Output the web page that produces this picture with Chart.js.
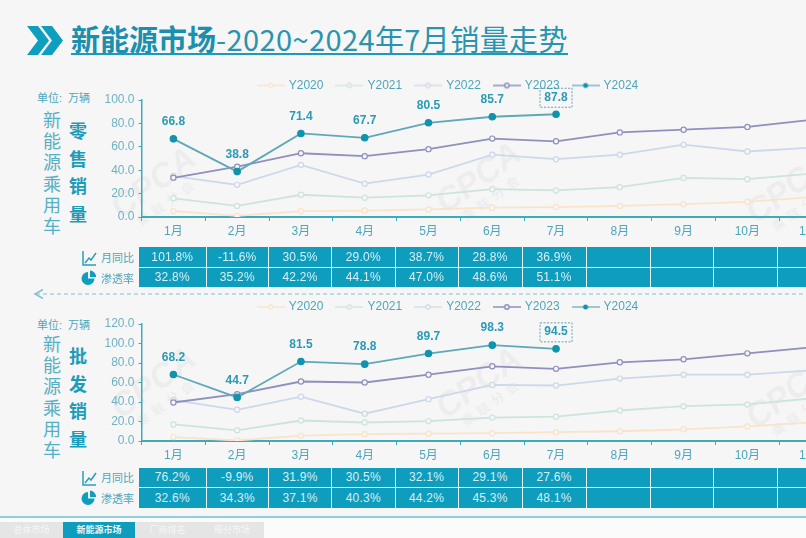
<!DOCTYPE html>
<html>
<head>
<meta charset="utf-8">
<script src="https://cdn.jsdelivr.net/npm/chart.js@4"></script>
<style>
html,body{margin:0;padding:0;width:806px;height:538px;overflow:hidden;background:#f6f6f6;font-family:"Liberation Sans","Noto Sans CJK SC",sans-serif;color:#4ea5bb}
div,svg,canvas,table{position:absolute}
.title{left:71px;top:18px;font-size:29px;line-height:40px;white-space:nowrap;color:#2a93ad;border-bottom:2px solid #1c9ab8;height:35px;width:497px;font-family:"Noto Sans CJK SC",sans-serif;letter-spacing:.4px}
.title b{font-weight:700;color:#1b8fae;letter-spacing:0}
.unit{left:37px;font-size:11px;white-space:nowrap;word-spacing:3px}
.vert{font-family:"Noto Sans CJK SC",sans-serif;font-size:18px;line-height:21.2px;width:20px;text-align:center;color:#55b0c6}
.vert.strong{font-weight:700;line-height:27.7px;color:#1b9cb9}
table{left:139px;border-collapse:collapse;table-layout:fixed;width:763px}
td{background:#0f9dbd;color:#d6f0f6;font-size:12px;text-align:center;height:19.5px;padding:0;border-right:1.5px solid #e6f5f8;border-bottom:1.5px solid #e6f5f8;letter-spacing:.2px}
tr:last-child td{border-bottom:none}
.rowname{left:101px;font-size:11px;font-family:"Noto Sans CJK SC",sans-serif;white-space:nowrap;line-height:14px;color:#4ea5bb}
.mark{color:rgba(190,190,190,.16);font:italic bold 34px "Liberation Sans",sans-serif;transform:rotate(-36deg);white-space:nowrap;line-height:30px;text-align:center}
.mark span{display:block;font:700 13px "Noto Sans CJK SC",sans-serif;letter-spacing:5px}
.foot{left:0;top:516px;width:806px;height:20px;background:#fbfbfb;border-top:2px solid #8fcfde}
.tab{top:522px;height:16px;line-height:16px;background:#e5e5e5;color:#f6f6f6;font:9px/16px "Noto Sans CJK SC",sans-serif;text-align:center}
</style>
</head>
<body>
<div class="mark" style="left:110px;top:165px">CPCA<span>乘联分会</span></div>
<div class="mark" style="left:435px;top:160px">CPCA<span>乘联分会</span></div>
<div class="mark" style="left:745px;top:170px">CPCA<span>乘联分会</span></div>
<div class="mark" style="left:110px;top:365px">CPCA<span>乘联分会</span></div>
<div class="mark" style="left:435px;top:365px">CPCA<span>乘联分会</span></div>
<div class="mark" style="left:745px;top:375px">CPCA<span>乘联分会</span></div>

<svg style="left:0;top:0" width="806" height="538">
  <polygon points="27,26 38,26 49,40.5 38,55 27,55 38,40.5" fill="#0e9ebf"/>
  <polygon points="41,26 52,26 63,40.5 52,55 41,55 52,40.5" fill="#0e9ebf"/>
  <line x1="36" y1="294" x2="806" y2="294" stroke="#7fc2d2" stroke-width="1.2" stroke-dasharray="4 3"/>
  <polyline points="43,289.5 35,294 43,298.5" fill="none" stroke="#7fc2d2" stroke-width="1.5"/>
  <g id="icons" fill="none" stroke="#2b9db9" stroke-width="1.5">
    <path d="M83 251V265H96M85 263L89 258L91 260L96 253"/>
    <path d="M83 471V485H96M85 483L89 478L91 480L96 473"/>
  </g>
  <path d="M88 272A6.5 6.5 0 1 0 94.5 278.5H88Z M90 270.5A6.5 6.5 0 0 1 96 277H90Z" fill="#0e9ebf"/>
  <path d="M88 492A6.5 6.5 0 1 0 94.5 498.5H88Z M90 490.5A6.5 6.5 0 0 1 96 497H90Z" fill="#0e9ebf"/>
</svg>

<div class="title"><b>新能源市场</b>-2020~2024年7月销量走势</div>

<div class="unit" style="top:89px">单位: 万辆</div>
<div class="vert" style="left:42px;top:109px">新<br>能<br>源<br>乘<br>用<br>车</div>
<div class="vert strong" style="left:68px;top:117px">零<br>售<br>销<br>量</div>
<div class="unit" style="top:316px">单位: 万辆</div>
<div class="vert" style="left:42px;top:333px">新<br>能<br>源<br>乘<br>用<br>车</div>
<div class="vert strong" style="left:68px;top:342px">批<br>发<br>销<br>量</div>

<canvas id="retail"></canvas>
<canvas id="wholesale"></canvas>

<div class="rowname" style="top:250px">月同比</div>
<div class="rowname" style="top:271px">渗透率</div>
<table id="retailTable" style="top:247px"></table>
<div class="rowname" style="top:470px">月同比</div>
<div class="rowname" style="top:491px">渗透率</div>
<table id="wholesaleTable" style="top:467.5px"></table>

<div class="foot"></div>
<div class="tab" style="left:0;width:63px">总体市场</div>
<div class="tab" style="left:63px;width:72px;background:#0f9dbd;color:#eaf7fa;font-weight:700">新能源市场</div>
<div class="tab" style="left:135px;width:65px">厂商排名</div>
<div class="tab" style="left:200px;width:64px">细分市场</div>

<script>
const months = ["1月","2月","3月","4月","5月","6月","7月","8月","9月","10月","11月","12月"];
const years = ["Y2020","Y2021","Y2022","Y2023","Y2024"];
const lineColors = ["#fae3c9","#cde4de","#cdd8ea","#8f90bd","#5ea8b8"];

const retail2020 = [5,1,5,5.5,6.5,8,8.5,9.5,11,13,17,20];
const retail2021 = [16,9.5,19,16.5,18.5,23.8,22.7,25.5,33.4,32.3,37,44];
const retail2022 = [35,27.5,44.5,28.5,36.3,53.3,49.4,53.3,61.8,56,59.3,65];
const retail2023 = [33.5,43,54.5,52,58,67,64.7,72.3,74.6,77,83,88];
const retail2024 = [66.8,38.8,71.4,67.7,80.5,85.7,87.8];
const retailYoy = ["101.8%","-11.6%","30.5%","29.0%","38.7%","28.8%","36.9%"];
const retailPen = ["32.8%","35.2%","42.2%","44.1%","47.0%","48.6%","51.1%"];

const whole2020 = [4,0.5,5.5,7,7.5,8,9,10,12,15,19,24];
const whole2021 = [17,11,21,19,20.4,24,25,31.3,35.7,37.5,43.6,50];
const whole2022 = [42,32,45.5,28,42.9,57.5,56.9,64,68,68,72.5,80];
const whole2023 = [39.5,48,61,60,68,76.6,74,80.7,83.8,89.9,96,105];
const whole2024 = [68.2,44.7,81.5,78.8,89.7,98.3,94.5];
const wholeYoy = ["76.2%","-9.9%","31.9%","30.5%","32.1%","29.1%","27.6%"];
const wholePen = ["32.6%","34.3%","37.1%","40.3%","44.2%","45.3%","48.1%"];

const axisColor = "#3fa9bd";
const tickColor = "#4ea5bb";
const font = '"Liberation Sans","Noto Sans CJK SC",sans-serif';

// little line + dot sample for the legend
function legendIcon(i) {
  const c = document.createElement("canvas");
  c.width = 28; c.height = 10;
  const x = c.getContext("2d");
  x.strokeStyle = lineColors[i];
  x.lineWidth = i == 3 ? 1.5 : 1.2;
  x.beginPath(); x.moveTo(0,5); x.lineTo(28,5); x.stroke();
  x.beginPath(); x.arc(14,5,i == 4 ? 2.5 : 2.2,0,Math.PI*2);
  x.fillStyle = i == 4 ? "#0f93ae" : "#f6f6f6";
  x.fill();
  if (i != 4) x.stroke();
  return c;
}

const valueLabels = {
  id: "valueLabels",
  afterDatasetsDraw(chart) {
    const ctx = chart.ctx;
    const meta = chart.getDatasetMeta(4);
    const vals = chart.data.datasets[4].data;
    ctx.save();
    ctx.font = "bold 12px " + font;
    ctx.textAlign = "center";
    ctx.textBaseline = "middle";
    ctx.fillStyle = "#2a9ab5";
    meta.data.forEach((p, i) => {
      ctx.fillText(vals[i].toFixed(1), p.x, p.y - 17);
      if (i == vals.length - 1) {
        ctx.strokeStyle = "#4a8a9a";
        ctx.lineWidth = 0.8;
        ctx.setLineDash([2,1.5]);
        ctx.strokeRect(p.x - 16, p.y - 26, 32, 19);
      }
    });
    ctx.restore();
  }
};

function makeChart(id, top, series, yMax, legendDy) {
  const cv = document.getElementById(id);
  cv.style.left = "-9px";
  cv.style.top = top + "px";
  cv.style.width = "921px";
  cv.style.height = "180px";
  cv.width = 921; cv.height = 180;
  return new Chart(cv, {
    type: "line",
    data: {
      labels: months,
      datasets: series.map((d, i) => ({
        label: years[i],
        data: d,
        borderColor: lineColors[i],
        borderWidth: 1.8,
        backgroundColor: i == 4 ? "#0f93ae" : "#f6f6f6",
        pointBackgroundColor: i == 4 ? "#0f93ae" : "#f6f6f6",
        pointBorderColor: i == 4 ? "#0f93ae" : lineColors[i],
        pointBorderWidth: 1.2,
        pointRadius: i == 4 ? 3.2 : 2.6,
        tension: 0,
        order: 5 - i
      }))
    },
    options: {
      responsive: false,
      animation: false,
      devicePixelRatio: 1,
      layout: { padding: { left: 0, right: 0, top: 5, bottom: 0 } },
      plugins: {
        tooltip: { enabled: false },
        legend: {
          position: "top",
          labels: {
            usePointStyle: true,
            pointStyleWidth: 24,
            padding: 14,
            color: tickColor,
            font: { size: 12, family: font },
            generateLabels: ch => ch.data.datasets.map((d, i) => ({
              text: d.label, pointStyle: legendIcon(i), fontColor: tickColor,
              datasetIndex: i, lineWidth: 0
            }))
          }
        }
      },
      scales: {
        x: {
          offset: true,
          afterFit: s => { s.height = 22; },
          border: { color: axisColor, width: 2 },
          grid: { drawOnChartArea: false, drawTicks: true, tickLength: 4, color: axisColor, offset: true },
          ticks: { color: tickColor, font: { size: 12, family: font }, padding: 3, maxRotation: 0, autoSkip: false }
        },
        y: {
          min: 0, max: yMax,
          afterFit: s => { s.width = 150.5; },
          border: { color: axisColor, width: 1.5 },
          grid: { drawOnChartArea: false, drawTicks: true, tickLength: 3, color: axisColor },
          ticks: { stepSize: 20, color: "#6fb1c2", font: { size: 12, family: font }, padding: 4, callback: v => v.toFixed(1) }
        }
      }
    },
    plugins: [valueLabels, {
      id: "legendNudge",
      afterLayout(ch) { ch.legend.top += legendDy; ch.legend.left -= 3; ch.legend.right -= 3; }
    }]
  });
}

makeChart("retail", 59, [retail2020, retail2021, retail2022, retail2023, retail2024], 100, 1.5);
makeChart("wholesale", 283, [whole2020, whole2021, whole2022, whole2023, whole2024], 120, -1);

function fillTable(id, yoy, pen) {
  const widths = [67,62.5,63,63.5,63,64,64,64,63,64,63.5,63.5];
  let html = "<colgroup>" + widths.map(w => `<col style="width:${w}px">`).join("") + "</colgroup>";
  [yoy, pen].forEach(row => {
    html += "<tr>" + months.map((m, i) => `<td>${row[i] || ""}</td>`).join("") + "</tr>";
  });
  document.getElementById(id).innerHTML = html;
}
fillTable("retailTable", retailYoy, retailPen);
fillTable("wholesaleTable", wholeYoy, wholePen);
</script>
</body>
</html>
